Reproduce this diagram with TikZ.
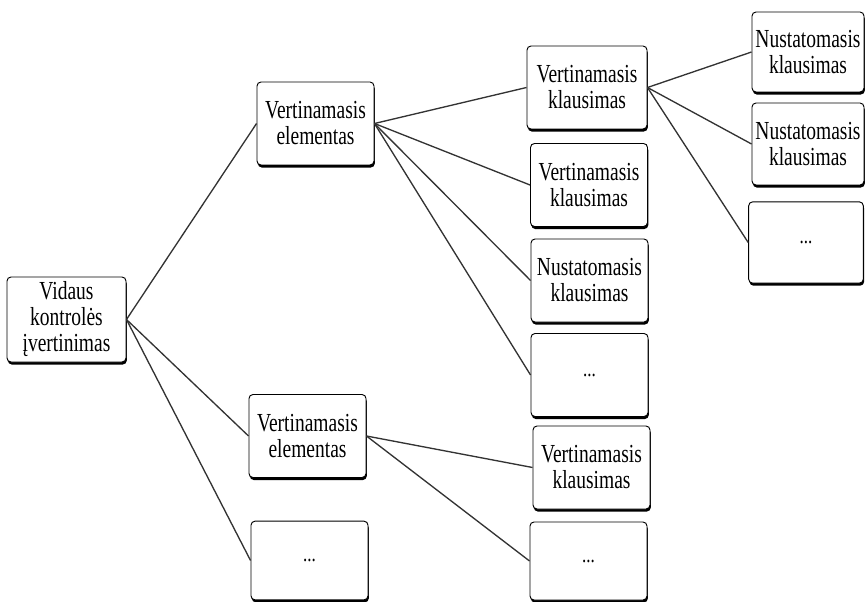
\documentclass[tikz,border=0pt]{standalone}
\usepackage{fontspec}
\setmainfont{Liberation Serif}[FakeStretch=0.75]
\usetikzlibrary{shadows}
\newcommand{\mydots}{{\fontsize{17}{17}\selectfont ...}}
\begin{document}
\begin{tikzpicture}[x=0.75pt,y=-0.75pt,
  box/.style={draw=black, line width=0.7pt, rounded corners=3pt, fill=white,
    minimum width=87.75pt, minimum height=62.25pt, inner sep=0pt, align=center,
    font=\fontsize{19.5}{19.5}\selectfont,
    drop shadow={shadow xshift=0.6pt, shadow yshift=-1.9pt, opacity=1, fill=black}},
  link/.style={draw=black!80, line width=1pt}]
\useasboundingbox (0,0) rectangle (866,602);
% level 0
\node[box, minimum width=89.25pt, minimum height=63.75pt] (root) at (66.5,319.5) {Vidaus\\kontrolės\\įvertinimas};
% level 1
\node[box] (A) at (315.5,123.5) {Vertinamasis\\elementas};
\node[box] (B) at (307.5,436) {Vertinamasis\\elementas};
\node[box, minimum height=59pt] (C) at (309.5,560.5) {\mydots};
% level 2
\node[box, minimum width=90pt] (V1) at (587,87.5) {Vertinamasis\\klausimas};
\node[box] (V2) at (589,185) {Vertinamasis\\klausimas};
\node[box] (N) at (589.5,280.5) {Nustatomasis\\klausimas};
\node[box] (D1) at (589.5,375) {\mydots};
\node[box] (V3) at (591.5,467.5) {Vertinamasis\\klausimas};
\node[box, minimum height=58.5pt] (D2) at (588.5,561) {\mydots};
% level 3
\node[box, minimum width=84pt, minimum height=60pt] (N1) at (808,52) {Nustatomasis\\klausimas};
\node[box, minimum width=84pt, minimum height=61.5pt] (N2) at (808,144) {Nustatomasis\\klausimas};
\node[box, minimum width=86pt, minimum height=61pt] (D3) at (806,242.5) {\mydots};
% connectors
\draw[link] (root.east) -- (A.west);
\draw[link] (root.east) -- (B.west);
\draw[link] (root.east) -- (C.west);
\draw[link] (A.east) -- (V1.west);
\draw[link] (A.east) -- (V2.west);
\draw[link] (A.east) -- (N.west);
\draw[link] (A.east) -- (D1.west);
\draw[link] (B.east) -- (V3.west);
\draw[link] (B.east) -- (D2.west);
\draw[link] (V1.east) -- (N1.west);
\draw[link] (V1.east) -- (N2.west);
\draw[link] (V1.east) -- (D3.west);
\end{tikzpicture}
\end{document}
